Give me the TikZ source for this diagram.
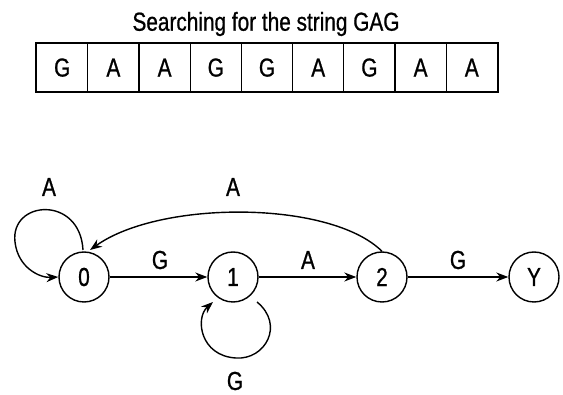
\documentclass[tikz,border=0pt]{standalone}
\usepackage{fontspec}
\setmainfont{Liberation Sans}[FakeStretch=0.8,FakeBold=0.8]
\usetikzlibrary{arrows.meta}
\begin{document}
\begin{tikzpicture}[x=1pt,y=-1pt,
  state/.style={draw,circle,line width=1.4pt,minimum size=50pt,inner sep=0pt,font=\fontsize{26}{26}\selectfont},
  cell/.style={draw,line width=1.2pt,minimum width=51.2pt,minimum height=48pt,inner sep=0pt,anchor=north west,font=\fontsize{26}{26}\selectfont},
  lbl/.style={inner sep=0.5pt,font=\fontsize{26}{26}\selectfont},
  edge/.style={line width=1.4pt,-{Stealth[length=12pt,width=9pt]}}]
\useasboundingbox (0,0) rectangle (563,395);
\node[font=\fontsize{26}{26}\selectfont] (title) at (266,24) {Searching for the string GAG};
\foreach \c [count=\i from 0] in {G,A,A,G,G,A,G,A,A}{
  \node[cell] (c\i) at ({36+51.2*\i},43) {\c};
}
\draw[line width=2.2pt] (c0.north west) rectangle (c8.south east);
\node[state] (n0) at (84,277) {0};
\node[state] (n1) at (233,277) {1};
\node[state] (n2) at (382,277) {2};
\node[state] (nY) at (534,277) {Y};
\draw[edge] (n0) -- (n1);
\node[lbl] (lg01) at (160,260) {G};
\draw[edge] (n1) -- (n2);
\node[lbl] (la12) at (308,260) {A};
\draw[edge] (n2) -- (nY);
\node[lbl] (lg2Y) at (458,260) {G};
\coordinate (l0s) at (83,250);
\draw[edge] (l0s) .. controls (80,195) and (10,200) .. (15,242) .. controls (18,268) and (40,278) .. (n0.west);
\node[lbl] (la0) at (49,187) {A};
\coordinate (l1s) at (257,302);
\draw[edge] (l1s) .. controls (285,325) and (265,360) .. (236,358) .. controls (200,356) and (195,318) .. (213,302);
\node[lbl] (lg1) at (235,381) {G};
\draw[edge] (n2.north) .. controls (330,200) and (160,200) .. (90,250);
\node[lbl] (la2) at (233,187) {A};
\end{tikzpicture}
\end{document}
